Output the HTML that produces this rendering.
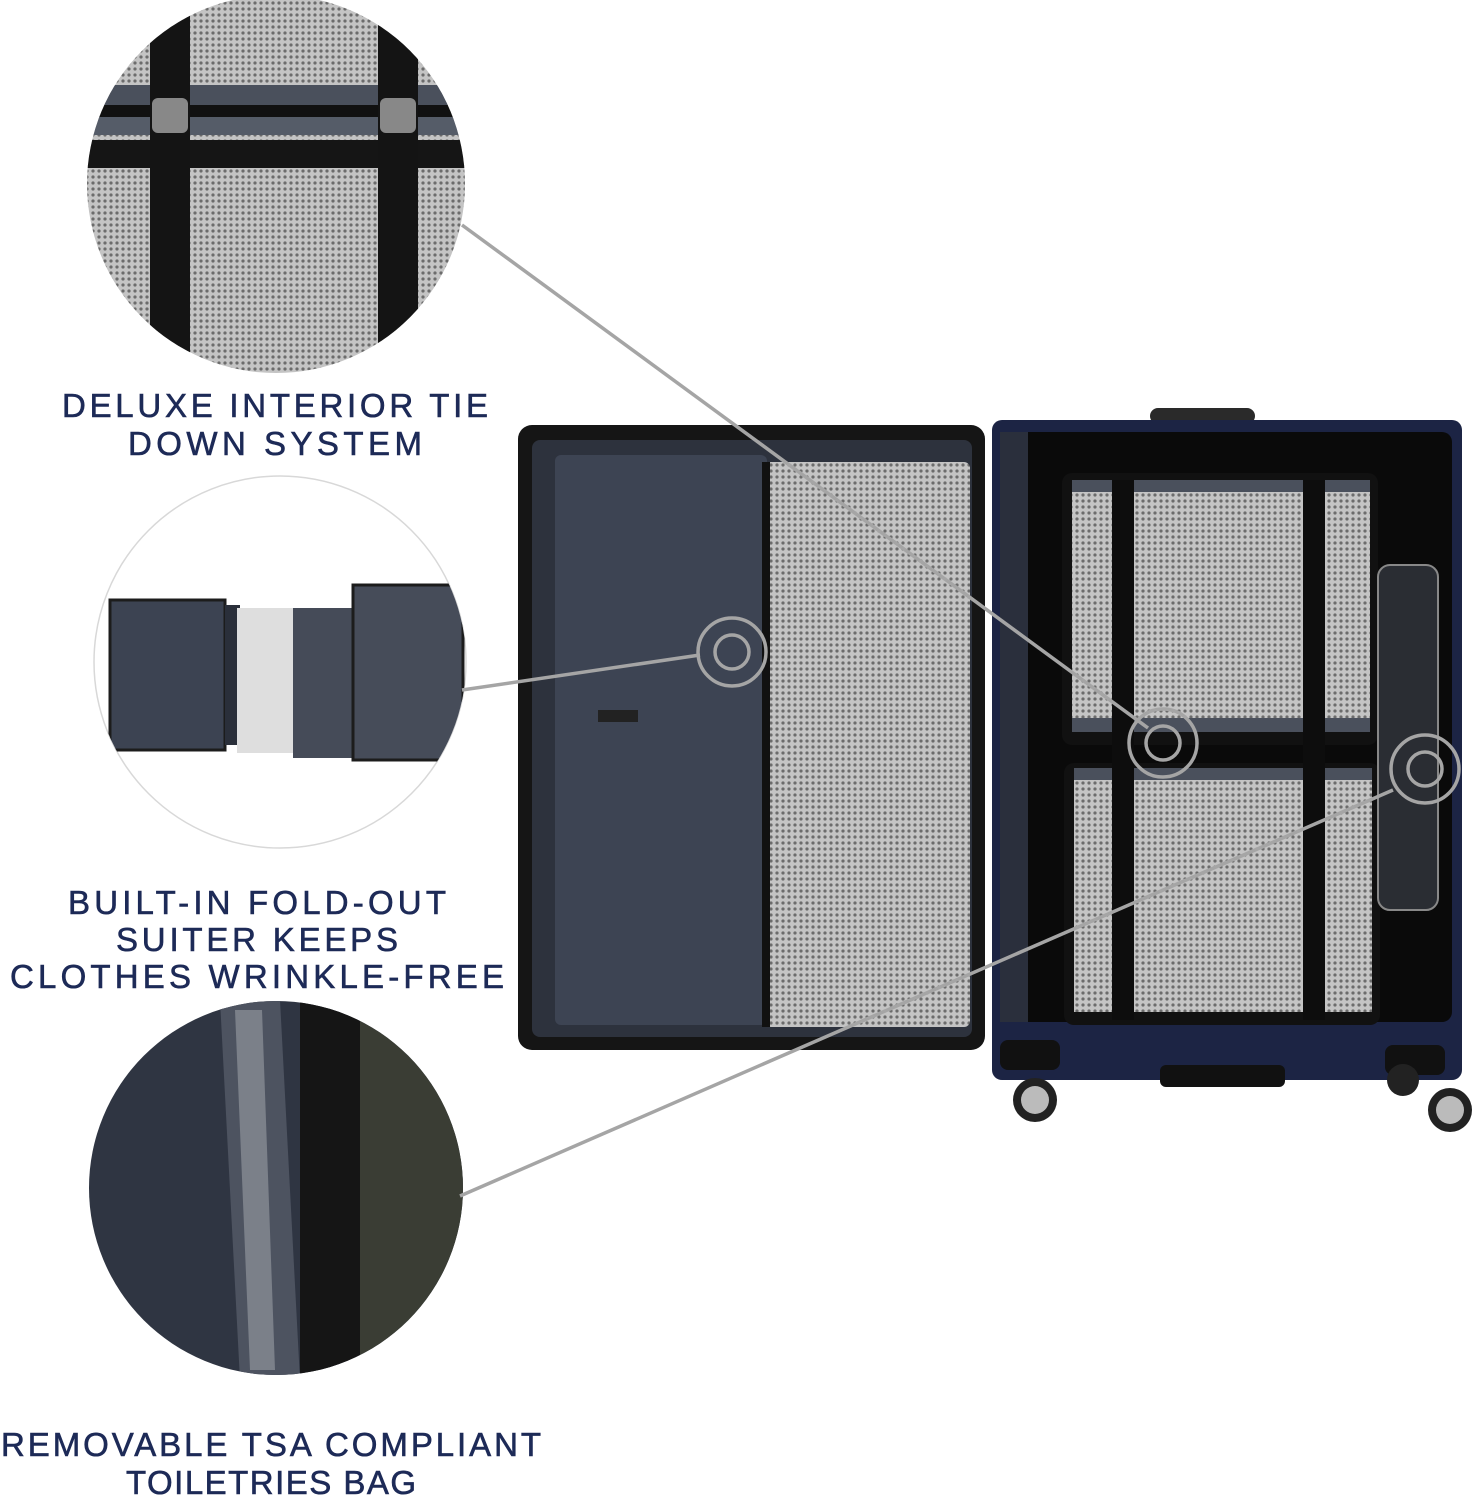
<!DOCTYPE html>
<html><head><meta charset="utf-8"><style>
html,body{margin:0;padding:0;background:#fff;}
svg{display:block;}
text{font-family:"Liberation Sans",sans-serif;fill:#1d2a57;font-size:33px;letter-spacing:2px;stroke:#1d2a57;stroke-width:0.6px;}
</style></head><body>
<svg width="1481" height="1500" viewBox="0 0 1481 1500" xmlns="http://www.w3.org/2000/svg">
<defs>
<pattern id="mesh" width="6" height="6" patternUnits="userSpaceOnUse">
<rect width="6" height="6" fill="#c4c4c4"/><circle cx="3" cy="3" r="1.6" fill="#6c6c6c"/>
</pattern>
<clipPath id="c1"><circle cx="276" cy="184" r="189"/></clipPath>
<clipPath id="c2"><circle cx="280" cy="662" r="186"/></clipPath>
<clipPath id="c3"><circle cx="276" cy="1188" r="187"/></clipPath>
</defs>

<!-- Circle 1 -->
<g clip-path="url(#c1)">
<rect x="80" y="0" width="400" height="380" fill="url(#mesh)"/>
<rect x="80" y="85" width="400" height="20" fill="#4a505c"/>
<rect x="80" y="105" width="400" height="12" fill="#111"/>
<rect x="80" y="117" width="400" height="18" fill="#555c68"/>
<rect x="80" y="140" width="400" height="28" fill="#151515"/>
<rect x="150" y="0" width="40" height="380" fill="#141414"/>
<rect x="378" y="0" width="40" height="380" fill="#141414"/>
<rect x="152" y="98" width="36" height="35" rx="6" fill="#888"/>
<rect x="380" y="98" width="36" height="35" rx="6" fill="#888"/>
</g>

<text x="276" y="417" text-anchor="middle" textLength="428">DELUXE INTERIOR TIE</text>
<text x="276" y="455" text-anchor="middle" textLength="296">DOWN SYSTEM</text>

<!-- Circle 2 -->
<circle cx="280" cy="662" r="186" fill="#fff" stroke="#d8d8d8" stroke-width="1.5"/>
<g clip-path="url(#c2)">
<rect x="110" y="600" width="115" height="150" fill="#3c4352" stroke="#1c1c1c" stroke-width="3"/>
<rect x="225" y="605" width="15" height="140" fill="#2a2f3a"/>
<rect x="237" y="608" width="62" height="145" fill="#dedede"/>
<rect x="293" y="608" width="62" height="150" fill="#454b58"/>
<rect x="353" y="585" width="110" height="175" fill="#464c59" stroke="#1c1c1c" stroke-width="3"/>
</g>

<text x="258" y="914" text-anchor="middle" textLength="380">BUILT-IN FOLD-OUT</text>
<text x="258" y="951" text-anchor="middle" textLength="284">SUITER KEEPS</text>
<text x="258" y="988" text-anchor="middle" textLength="496">CLOTHES WRINKLE-FREE</text>

<!-- Circle 3 -->
<g clip-path="url(#c3)">
<rect x="80" y="990" width="400" height="400" fill="#2f3542"/>
<path d="M220 1000 L280 1000 L300 1380 L240 1380 Z" fill="#4d5360"/>
<path d="M235 1010 L262 1010 L275 1370 L250 1370 Z" fill="#7b8089"/>
<rect x="300" y="1000" width="60" height="380" fill="#151515"/>
<rect x="360" y="1000" width="110" height="380" fill="#3a3d34"/>
</g>

<text x="272" y="1456" text-anchor="middle" textLength="542">REMOVABLE TSA COMPLIANT</text>
<text x="272" y="1494" text-anchor="middle" textLength="292">TOILETRIES BAG</text>

<!-- Left open lid -->
<rect x="518" y="425" width="467" height="625" rx="14" fill="#151515"/>
<rect x="532" y="440" width="440" height="597" rx="8" fill="#2d323d"/>
<rect x="555" y="455" width="212" height="570" rx="6" fill="#3d4453"/>
<rect x="765" y="462" width="205" height="565" rx="6" fill="url(#mesh)"/>
<rect x="762" y="462" width="8" height="565" fill="#111"/>
<rect x="598" y="710" width="40" height="12" fill="#222"/>

<!-- Right suitcase -->
<rect x="1150" y="408" width="105" height="16" rx="8" fill="#2a2a2a"/>
<rect x="992" y="420" width="470" height="660" rx="10" fill="#1c2444"/>
<rect x="1000" y="432" width="452" height="590" rx="10" fill="#0a0a0a"/>
<rect x="1000" y="432" width="28" height="590" fill="#2a2f3c"/>
<rect x="1062" y="473" width="316" height="272" rx="10" fill="#111"/>
<rect x="1072" y="490" width="298" height="240" fill="url(#mesh)"/>
<rect x="1072" y="480" width="298" height="12" fill="#4a505c"/>
<rect x="1072" y="718" width="298" height="14" fill="#4a505c"/>
<rect x="1064" y="763" width="316" height="262" rx="10" fill="#111"/>
<rect x="1074" y="780" width="298" height="232" fill="url(#mesh)"/>
<rect x="1074" y="768" width="298" height="12" fill="#4a505c"/>
<rect x="1112" y="480" width="22" height="540" fill="#0d0d0d"/>
<rect x="1303" y="480" width="22" height="540" fill="#0d0d0d"/>
<rect x="1378" y="565" width="60" height="345" rx="12" fill="#2a2d33" stroke="#888" stroke-width="2"/>
<rect x="1160" y="1065" width="125" height="22" rx="6" fill="#111"/>
<!-- wheels -->
<rect x="1000" y="1040" width="60" height="30" rx="8" fill="#111"/>
<rect x="1385" y="1045" width="60" height="30" rx="8" fill="#111"/>
<circle cx="1035" cy="1100" r="22" fill="#222"/><circle cx="1035" cy="1100" r="14" fill="#bbb"/>
<circle cx="1403" cy="1080" r="16" fill="#222"/>
<circle cx="1450" cy="1110" r="22" fill="#222"/><circle cx="1450" cy="1110" r="14" fill="#bbb"/>

<!-- Connectors -->
<g stroke="#a5a5a5" stroke-width="3.5" fill="none">
<line x1="462" y1="225" x2="1148" y2="728"/>
<line x1="462" y1="690" x2="700" y2="655"/>
<line x1="460" y1="1196" x2="1393" y2="790"/>
<circle cx="732" cy="652" r="34"/><circle cx="732" cy="652" r="17"/>
<circle cx="1163" cy="743" r="34"/><circle cx="1163" cy="743" r="17"/>
<circle cx="1425" cy="769" r="34"/><circle cx="1425" cy="769" r="17"/>
</g>
</svg>
</body></html>
